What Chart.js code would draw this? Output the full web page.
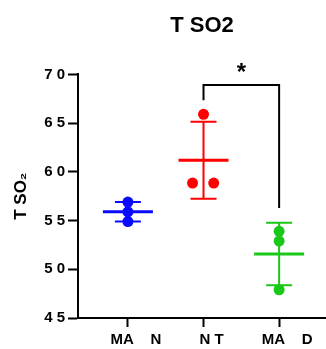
<!DOCTYPE html>
<html>
<head>
<meta charset="utf-8">
<script src="https://cdn.jsdelivr.net/npm/chart.js@4.4.1/dist/chart.umd.min.js"></script>
<style>
  html, body { margin: 0; padding: 0; background: #fff; }
  #wrap { width: 326px; height: 349px; position: relative; }
</style>
</head>
<body>
<div id="wrap"><canvas id="chart"></canvas></div>
<script>
// groups along the x axis
const groups = ['MA    N', 'N T', 'MA    D'];
const groupPos = [1, 2, 3];
const groupColors = ['#0a0aff', '#ff0000', '#19c819'];

// individual points (x = group position + small jitter)
const manX = [1, 1, 1];
const manY = [56.9, 55.9, 54.9];
const ntX = [2, 1.855, 2.135];
const ntY = [65.9, 58.85, 58.85];
const madX = [3, 3, 3];
const madY = [53.9, 52.9, 47.9];

// mean and SD per group
const means = [55.9, 61.2, 51.57];
const sds = [1.0, 3.95, 3.2];

// y axis
const yMin = 45, yMax = 70, yStep = 5;

// significance bracket NT vs MAD
const bracketX = [2, 2, 3, 3];
const bracketY = [67.35, 68.9, 68.9, 56.3];
const sigText = '*';
const sigX = 2.5, sigY = 70.4;

const FONT = "'Liberation Sans', Arial, sans-serif";

function pts(xs, ys) { return xs.map((x, i) => ({ x: x, y: ys[i] })); }

// mean line + SD error bars, drawn under the points
const errorBars = {
  id: 'errorBars',
  beforeDatasetsDraw(chart) {
    const { ctx, scales: { x, y } } = chart;
    ctx.save();
    groupPos.forEach((g, i) => {
      const cx = x.getPixelForValue(g);
      const my = y.getPixelForValue(means[i]);
      const top = y.getPixelForValue(means[i] + sds[i]);
      const bot = y.getPixelForValue(means[i] - sds[i]);
      ctx.strokeStyle = groupColors[i];
      ctx.lineWidth = 2;
      ctx.beginPath();
      ctx.moveTo(cx, top); ctx.lineTo(cx, bot);
      ctx.moveTo(cx - 13, top); ctx.lineTo(cx + 13, top);
      ctx.moveTo(cx - 13, bot); ctx.lineTo(cx + 13, bot);
      ctx.stroke();
      ctx.lineWidth = 3;
      ctx.beginPath();
      ctx.moveTo(cx - 25, my); ctx.lineTo(cx + 25, my);
      ctx.stroke();
    });
    ctx.restore();
  },
  afterDraw(chart) {
    const { ctx, scales: { x, y } } = chart;
    ctx.save();
    ctx.fillStyle = '#000';
    ctx.font = 'bold 24px ' + FONT;
    ctx.textAlign = 'center';
    ctx.textBaseline = 'middle';
    ctx.fillText(sigText, x.getPixelForValue(sigX), y.getPixelForValue(sigY) + 3);
    ctx.restore();
  }
};

new Chart(document.getElementById('chart'), {
  type: 'scatter',
  data: {
    datasets: [
      { data: pts(manX, manY), backgroundColor: groupColors[0], borderWidth: 0, pointRadius: 5.5 },
      { data: pts(ntX, ntY), backgroundColor: groupColors[1], borderWidth: 0, pointRadius: 5.5 },
      { data: pts(madX, madY), backgroundColor: groupColors[2], borderWidth: 0, pointRadius: 5.5 },
      { data: pts(bracketX, bracketY), showLine: true, borderColor: '#000', borderWidth: 2,
        pointRadius: 0, fill: false, clip: false }
    ]
  },
  options: {
    responsive: true,
    maintainAspectRatio: false,
    animation: false,
    layout: { autoPadding: false, padding: 0 },
    plugins: {
      legend: { display: false },
      tooltip: { enabled: false },
      title: {
        display: true,
        text: 'T SO2',
        fullSize: false,
        color: '#000',
        font: { family: FONT, size: 22, weight: 'bold' },
        padding: { top: 13, bottom: 35 }
      }
    },
    scales: {
      x: {
        type: 'linear',
        min: 0.34,
        max: 3.62,
        afterFit(scale) { scale.height = 31; scale.paddingLeft = 0; scale.paddingRight = 0; },
        afterBuildTicks(scale) { scale.ticks = groupPos.map(v => ({ value: v })); },
        border: { display: true, color: '#000', width: 2 },
        grid: { drawOnChartArea: false, drawTicks: true, tickLength: 9, color: '#000', tickWidth: 2 },
        ticks: {
          autoSkip: false, maxRotation: 0, padding: 4, labelOffset: 8,
          color: '#000', font: { family: FONT, size: 15, weight: 'bold' },
          callback: v => groups[groupPos.indexOf(v)]
        }
      },
      y: {
        min: yMin,
        max: yMax,
        afterFit(scale) { scale.width = 78; },
        border: { display: true, color: '#000', width: 2 },
        grid: { drawOnChartArea: false, drawTicks: true, tickLength: 10, color: '#000', tickWidth: 2 },
        ticks: {
          stepSize: yStep, padding: 3,
          color: '#000', font: { family: FONT, size: 15, weight: 'bold' },
          callback: v => String(v).split('').join(' ')
        },
        title: {
          display: true,
          text: 'T SO\u2082',
          color: '#000',
          font: { family: FONT, size: 17, weight: 'bold' },
          padding: { top: 11, bottom: 0 }
        }
      }
    }
  },
  plugins: [errorBars]
});
</script>
</body>
</html>
